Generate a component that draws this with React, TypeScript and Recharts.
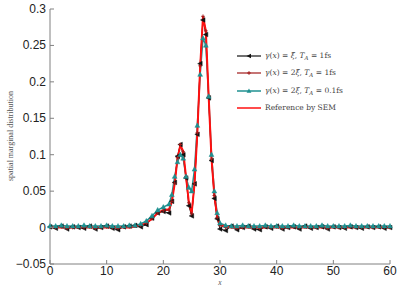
import React from "react";
import { LineChart, Line, XAxis, YAxis } from "recharts";

const xs = [0,1,2,3,4,5,6,7,8,9,10,11,12,13,14,15,16,17,18,19,20,21,21.5,22,22.5,23,23.5,24,24.5,25,25.5,26,26.5,27,27.5,28,28.5,29,29.5,30,31,32,33,34,35,36,37,38,39,40,41,42,43,44,45,46,47,48,49,50,51,52,53,54,55,56,57,58,59,60];

const blackVals = [0.001,-0.001,0.002,-0.002,0.001,0,-0.001,0.002,-0.002,0,0.002,-0.001,-0.003,0.001,0.002,0.003,0.001,0.004,0.013,0.02,0.022,0.02,0.036,0.062,0.098,0.114,0.1,0.068,0.03,0.016,0.06,0.128,0.225,0.285,0.265,0.178,0.092,0.04,0.012,-0.002,-0.004,0.002,-0.003,0,0.002,-0.002,-0.003,0.001,-0.001,0.002,-0.002,0,0.001,-0.002,0.002,-0.001,0,0.001,-0.002,0.001,0,-0.001,0.001,0,-0.001,0.001,0,0.001,-0.001,0];

const darkRedVals = [0.001,0,0.001,-0.001,0,0.001,0,0.001,-0.001,0,0.001,0,-0.001,0.001,0.001,0.002,0.003,0.006,0.012,0.02,0.023,0.024,0.036,0.061,0.096,0.114,0.104,0.07,0.034,0.019,0.06,0.13,0.222,0.29,0.27,0.18,0.094,0.044,0.014,0.003,0,0.001,-0.001,0,0.001,0,-0.001,0.001,0,0.001,-0.001,0,0.001,0,0.001,0,0,0.001,-0.001,0.001,0,0,0.001,0,0,0.001,0,0.001,0,0];

const tealVals = [0.002,0.002,0.003,0.002,0.002,0.002,0.003,0.002,0.002,0.002,0.003,0.002,0.002,0.002,0.003,0.003,0.005,0.009,0.016,0.024,0.028,0.032,0.045,0.07,0.09,0.1,0.095,0.07,0.055,0.05,0.08,0.14,0.21,0.26,0.25,0.18,0.1,0.05,0.02,0.006,0.003,0.002,0.002,0.003,0.002,0.002,0.002,0.003,0.002,0.002,0.002,0.002,0.003,0.002,0.002,0.002,0.002,0.003,0.002,0.002,0.002,0.002,0.003,0.002,0.002,0.002,0.002,0.002,0.002,0.002];

const refVals = [0,0,0,0,0,0,0,0,0,0,0,0,0,0,0,0.001,0.003,0.006,0.012,0.02,0.024,0.025,0.035,0.06,0.095,0.113,0.105,0.07,0.035,0.02,0.06,0.13,0.22,0.29,0.27,0.18,0.095,0.045,0.015,0.004,0.001,0,0,0,0,0,0,0,0,0,0,0,0,0,0,0,0,0,0,0,0,0,0,0,0,0,0,0,0,0];

const xTicks = [0, 10, 20, 30, 40, 50, 60];
const yTicks = [-0.05, 0, 0.05, 0.1, 0.15, 0.2, 0.25, 0.3];

const data = xs.map((x, i) => ({
  x,
  black: blackVals[i],
  darkRed: darkRedVals[i],
  teal: tealVals[i],
  ref: refVals[i],
}));

const AXIS = "#808080";
const TXT = "#222";
const C_BLACK = "#111111";
const C_DARKRED = "#a01818";
const C_TEAL = "#1f9090";
const C_RED = "#ff1010";

const fmtY = (v: number) => {
  const s = String(v);
  return s.startsWith("-") ? "\u2212" + s.slice(1) : s;
};

const BottomTick = (p: any) => (
  <g>
    <line x1={p.x} x2={p.x} y1={p.y} y2={p.y - 4} stroke={AXIS} />
    <text x={p.x} y={p.y + 11} textAnchor="middle" fontSize={12} fontFamily="Liberation Sans, Arial, sans-serif" fill={TXT}>
      {p.payload.value}
    </text>
  </g>
);
const TopTick = (p: any) => (
  <line x1={p.x} x2={p.x} y1={p.y} y2={p.y + 4} stroke={AXIS} />
);
const LeftTick = (p: any) => (
  <g>
    <line x1={p.x} x2={p.x + 4} y1={p.y} y2={p.y} stroke={AXIS} />
    <text x={p.x - 4} y={p.y + 4} textAnchor="end" fontSize={12} fontFamily="Liberation Sans, Arial, sans-serif" fill={TXT}>
      {fmtY(p.payload.value)}
    </text>
  </g>
);
const RightTick = (p: any) => (
  <line x1={p.x} x2={p.x - 4} y1={p.y} y2={p.y} stroke={AXIS} />
);

const leftTri = (p: any) => {
  const { cx, cy, index } = p;
  if (cx == null || cy == null) return <g key={"b" + index} />;
  return (
    <polygon key={"b" + index} points={`${cx - 2.5},${cy} ${cx + 2},${cy - 2.3} ${cx + 2},${cy + 2.3}`} fill={C_BLACK} stroke={C_BLACK} strokeWidth={0.5} />
  );
};
const plusDot = (p: any) => {
  const { cx, cy, index } = p;
  if (cx == null || cy == null) return <g key={"d" + index} />;
  return (
    <g key={"d" + index}>
      <line x1={cx - 1.8} x2={cx + 1.8} y1={cy} y2={cy} stroke={C_DARKRED} strokeWidth={1} />
      <line x1={cx} x2={cx} y1={cy - 1.8} y2={cy + 1.8} stroke={C_DARKRED} strokeWidth={1} />
    </g>
  );
};
const upTri = (p: any) => {
  const { cx, cy, index } = p;
  if (cx == null || cy == null) return <g key={"t" + index} />;
  return (
    <polygon key={"t" + index} points={`${cx},${cy - 2.6} ${cx - 2.4},${cy + 1.8} ${cx + 2.4},${cy + 1.8}`} fill={C_TEAL} stroke={C_TEAL} strokeWidth={0.5} />
  );
};

const serif = "'Liberation Serif', 'Times New Roman', serif";
const legendSerif = "'DejaVu Serif', serif";

const LegendRow = ({ color, marker, width, children }: any) => (
  <div style={{ display: "flex", alignItems: "center", height: 17.5 }}>
    <svg width={26} height={10} style={{ flex: "none" }}>
      <line x1={1} x2={25} y1={5} y2={5} stroke={color} strokeWidth={width} />
      {marker === "left" && <polygon points="10.5,5 15,2.7 15,7.3" fill={color} />}
      {marker === "plus" && (
        <g>
          <line x1={11.2} x2={14.8} y1={5} y2={5} stroke={color} />
          <line x1={13} x2={13} y1={3.2} y2={6.8} stroke={color} />
        </g>
      )}
      {marker === "up" && <polygon points="13,2.4 10.6,6.8 15.4,6.8" fill={color} />}
    </svg>
    <span style={{ marginLeft: 3, fontFamily: legendSerif, fontSize: 7.5, color: "#444", whiteSpace: "nowrap", lineHeight: "10px" }}>
      {children}
    </span>
  </div>
);

const Sub = ({ children }: any) => (
  <span style={{ fontSize: 5.5, position: "relative", top: 2 }}>{children}</span>
);

export default function App() {
  return (
    <div style={{ position: "absolute", left: 0, top: 0, width: 401, height: 286, background: "#fff" }}>
      <LineChart width={401} height={286} data={data} margin={{ top: 9, right: 11, bottom: 0, left: 0 }}>
        <XAxis
          xAxisId={0}
          dataKey="x"
          type="number"
          domain={[0, 60]}
          ticks={xTicks}
          interval={0}
          height={22}
          tickSize={0}
          tickMargin={0}
          tickLine={false}
          axisLine={{ stroke: AXIS }}
          tick={BottomTick}
        />
        <XAxis
          xAxisId="top"
          orientation="top"
          dataKey="x"
          type="number"
          domain={[0, 60]}
          ticks={xTicks}
          interval={0}
          height={0}
          tickSize={0}
          tickMargin={0}
          tickLine={false}
          axisLine={{ stroke: AXIS }}
          tick={TopTick}
        />
        <YAxis
          yAxisId={0}
          type="number"
          domain={[-0.05, 0.3]}
          ticks={yTicks}
          interval={0}
          width={50}
          tickSize={0}
          tickMargin={0}
          tickLine={false}
          axisLine={{ stroke: AXIS }}
          tick={LeftTick}
        />
        <YAxis
          yAxisId="right"
          orientation="right"
          type="number"
          domain={[-0.05, 0.3]}
          ticks={yTicks}
          interval={0}
          width={0}
          tickSize={0}
          tickMargin={0}
          tickLine={false}
          axisLine={{ stroke: AXIS }}
          tick={RightTick}
        />
        <Line dataKey="black" stroke={C_BLACK} strokeWidth={1} dot={leftTri} activeDot={false} isAnimationActive={false} type="linear" />
        <Line dataKey="darkRed" stroke={C_DARKRED} strokeWidth={1} dot={plusDot} activeDot={false} isAnimationActive={false} type="linear" />
        <Line dataKey="teal" stroke={C_TEAL} strokeWidth={1.5} dot={upTri} activeDot={false} isAnimationActive={false} type="linear" />
        <Line dataKey="ref" stroke={C_RED} strokeWidth={2} dot={false} activeDot={false} isAnimationActive={false} type="linear" />
      </LineChart>
      <div style={{ position: "absolute", left: 0, top: 0, width: 401, height: 286, pointerEvents: "none" }}>
        <div style={{ position: "absolute", left: 10, top: 136, transform: "translate(-50%, -50%) rotate(-90deg)", fontFamily: serif, fontSize: 8, color: "#555", whiteSpace: "nowrap" }}>
          spatial marginal distribution
        </div>
        <div style={{ position: "absolute", left: 220, top: 279, lineHeight: "7px", transform: "translateX(-50%)", fontFamily: serif, fontStyle: "italic", fontSize: 7.5, color: "#555" }}>
          x
        </div>
        <div style={{ position: "absolute", left: 236, top: 47 }}>
          <LegendRow color={C_BLACK} marker="left" width={1.2}>
            <i>γ</i>(<i>x</i>) = <i>ξ̃</i>, <i>T</i><Sub><i>A</i></Sub> = 1fs
          </LegendRow>
          <LegendRow color={C_DARKRED} marker="plus" width={1.2}>
            <i>γ</i>(<i>x</i>) = 2<i>ξ̃</i>, <i>T</i><Sub><i>A</i></Sub> = 1fs
          </LegendRow>
          <LegendRow color={C_TEAL} marker="up" width={1.5}>
            <i>γ</i>(<i>x</i>) = 2<i>ξ</i>, <i>T</i><Sub><i>A</i></Sub> = 0.1fs
          </LegendRow>
          <LegendRow color={C_RED} marker="none" width={1.5}>
            Reference by SEM
          </LegendRow>
        </div>
      </div>
    </div>
  );
}
